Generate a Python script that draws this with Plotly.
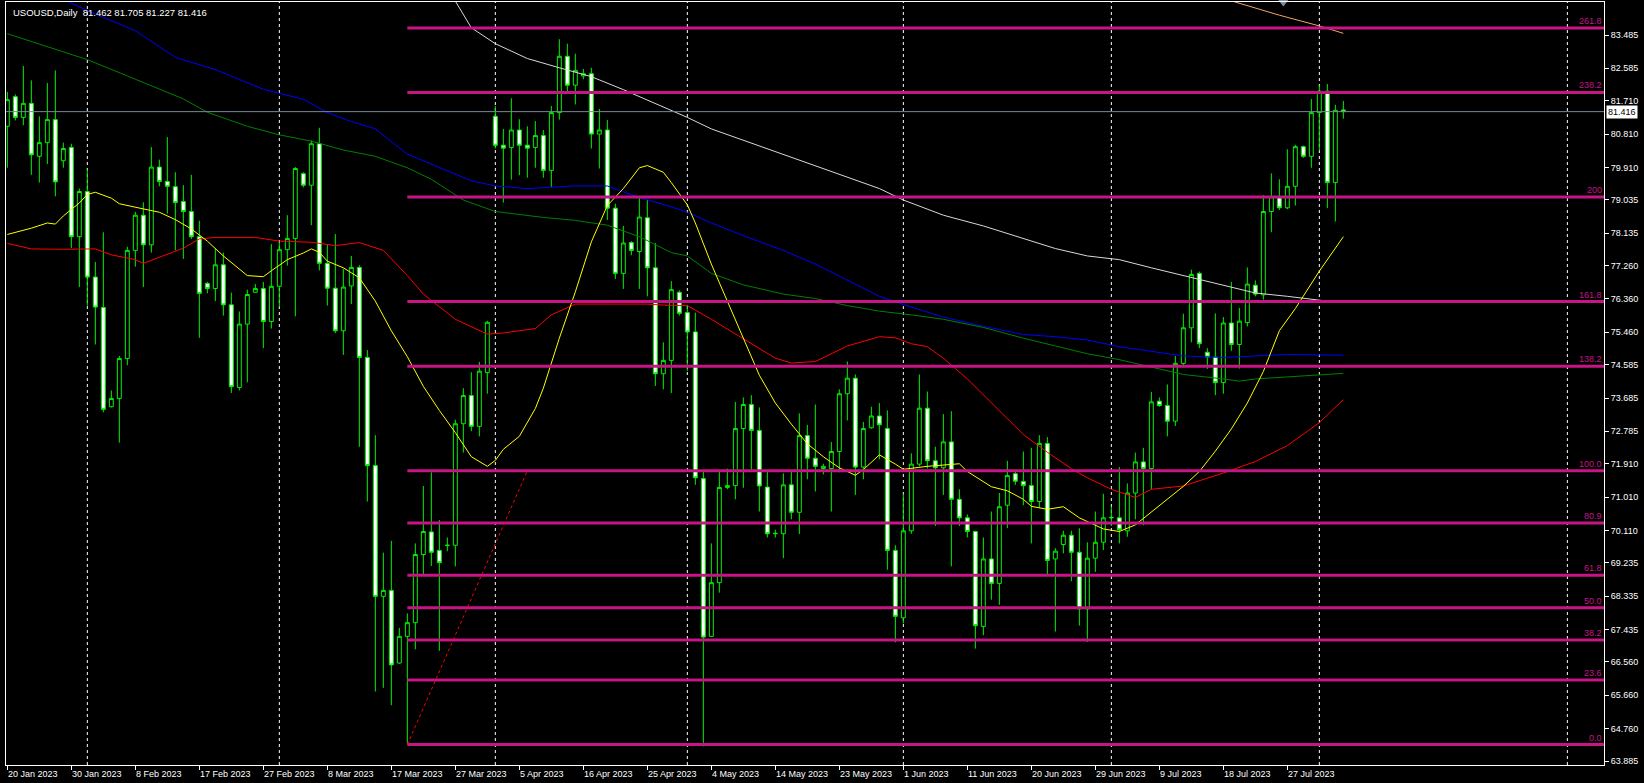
import plotly.graph_objects as go

# ---------------- data ----------------
title_text = "USOUSD,Daily  81.462 81.705 81.227 81.416"

open_ = [81.02,81.82,81.26,81.64,80.21,80.58,81.20,80.09,80.45,78.04,
         79.26,76.95,76.13,73.45,73.67,74.75,77.67,78.62,77.82,79.92,
         79.53,79.39,78.99,78.72,78.04,76.78,76.64,77.28,76.20,73.97,
         75.68,76.54,76.64,75.75,76.70,77.69,77.99,79.74,79.43,80.55,
         77.32,76.65,75.50,76.71,77.21,74.78,71.86,68.33,68.49,66.53,
         67.25,67.62,69.46,70.07,69.57,69.70,69.71,72.99,73.75,72.92,
         74.37,81.29,80.51,80.45,80.92,80.51,80.45,80.77,79.83,81.39,
         82.91,82.13,82.38,82.44,80.81,80.92,78.81,77.05,77.88,77.64,
         78.55,77.20,74.34,74.70,76.54,75.99,75.47,71.51,67.25,68.70,
         71.27,71.32,72.86,73.51,72.81,71.28,70.02,70.02,71.34,70.60,
         72.67,72.06,71.78,71.78,72.24,73.80,74.22,71.82,72.88,73.20,
         72.86,69.57,67.75,70.10,71.90,73.41,71.99,71.80,72.50,70.95,
         70.45,70.08,67.52,69.34,68.68,70.79,71.64,71.43,71.32,70.89,
         72.46,69.34,69.73,69.98,69.52,67.99,69.36,69.79,70.45,70.45,
         70.10,71.12,71.96,71.78,73.60,73.48,73.06,74.62,75.58,77.05,
         74.92,74.79,74.10,75.71,75.13,75.72,76.73,76.47,78.72,79.12,
         78.82,79.40,80.47,80.21,81.39,81.97,79.50,81.462]
high = [81.95,81.88,82.65,82.26,81.29,82.19,82.53,80.58,80.55,79.34,
        79.86,77.36,78.16,73.89,74.82,77.77,78.71,78.97,80.46,80.12,
        80.73,79.78,79.43,79.71,78.47,76.82,77.72,77.61,76.53,76.02,
        76.61,76.76,76.82,77.84,77.89,78.62,79.92,79.78,80.64,80.98,
        77.82,78.11,77.17,77.52,77.27,74.98,72.68,69.51,69.83,67.48,
        67.87,69.76,71.31,71.68,70.39,69.92,73.10,73.95,74.38,74.66,
        75.77,81.57,80.95,81.78,81.21,81.02,81.16,80.92,81.57,83.37,
        83.25,82.98,82.57,82.60,81.49,81.19,78.93,78.33,77.92,79.08,
        79.03,77.87,75.19,76.84,76.59,76.20,75.99,71.69,69.76,71.72,
        71.78,73.58,73.70,73.76,73.43,71.72,70.13,71.65,71.74,73.27,
        72.96,73.51,71.91,72.50,73.92,74.67,74.32,73.04,73.45,73.55,
        73.35,69.71,71.10,72.19,74.32,73.86,72.37,73.25,73.33,71.22,
        70.54,70.10,69.92,70.62,71.12,71.99,71.69,72.24,72.34,72.68,
        72.63,69.63,70.10,70.10,70.17,69.79,70.62,71.10,70.75,71.82,
        71.38,72.21,72.34,73.85,73.70,74.05,74.82,75.96,77.15,77.10,
        75.03,75.97,75.87,76.82,76.12,77.21,76.86,79.16,79.75,79.59,
        80.40,80.52,80.50,81.76,82.13,82.16,81.60,81.705]
low = [79.90,81.18,81.05,79.71,79.50,80.00,79.13,79.90,77.73,76.68,
       76.18,75.13,73.30,73.43,72.48,74.57,77.23,76.68,77.61,79.40,
       78.66,77.67,77.44,77.98,75.31,76.51,76.30,75.91,73.82,73.89,
       74.11,76.54,75.03,75.56,76.14,77.26,75.89,79.37,78.35,77.13,
       76.18,75.44,74.85,76.22,72.37,70.89,65.76,65.86,65.39,66.51,
       64.34,66.90,68.89,69.15,66.86,69.55,69.14,72.21,72.79,72.65,
       73.80,80.42,78.96,79.58,79.70,79.63,79.90,79.63,79.38,81.20,
       81.95,81.61,82.29,80.42,79.88,78.49,76.90,76.63,77.54,76.63,
       76.43,74.01,73.92,73.82,75.91,74.42,71.34,64.28,67.23,68.43,
       71.22,70.95,71.26,71.75,70.62,69.92,69.92,69.36,70.41,70.01,
       71.49,71.16,71.62,70.62,71.68,73.08,71.07,71.49,72.86,72.03,
       69.05,67.09,67.60,70.02,71.84,71.78,70.23,71.07,69.14,70.23,
       69.92,66.92,67.28,68.24,68.10,70.17,71.34,70.79,69.76,70.72,
       68.93,67.38,69.49,68.74,67.54,67.10,68.99,69.58,70.23,69.76,
       69.94,70.41,70.25,71.22,73.45,72.65,72.93,74.51,75.19,75.03,
       74.47,73.76,73.80,74.96,74.48,75.62,76.43,76.34,78.16,78.76,
       78.78,78.88,80.17,79.90,80.37,78.81,78.45,81.227]
close = [81.74,81.26,81.64,80.25,80.58,81.20,79.52,80.42,78.04,79.26,
         76.95,76.14,73.38,73.67,74.75,77.67,78.62,77.82,79.92,79.53,
         79.40,78.96,78.72,78.04,76.51,76.64,77.28,76.20,73.99,75.68,
         76.48,76.64,75.75,76.70,77.69,77.99,79.88,79.43,80.55,77.32,
         76.65,75.50,76.68,77.21,74.78,71.86,68.33,68.49,66.48,67.25,
         67.62,69.46,70.08,69.52,69.24,69.71,72.99,73.75,72.92,74.41,
         75.73,80.51,80.43,80.92,80.51,80.43,80.77,79.83,81.39,82.91,
         82.13,82.53,82.44,80.81,80.92,78.81,77.05,77.87,77.67,78.57,
         77.20,74.34,74.70,76.61,75.97,75.47,71.53,67.23,68.70,71.27,
         71.32,72.86,73.51,72.81,71.31,70.02,70.03,71.34,70.60,72.67,
         72.06,71.84,71.84,72.24,73.80,74.22,71.82,72.86,73.20,72.96,
         69.57,67.79,70.10,71.90,73.41,71.99,71.80,72.50,70.95,70.45,
         70.08,67.54,69.34,68.68,70.75,71.59,71.44,71.32,70.89,72.46,
         69.30,69.55,69.98,69.52,67.99,69.36,69.79,70.45,70.46,70.13,
         71.12,71.96,71.78,73.58,73.48,73.06,74.62,75.58,77.02,75.15,
         74.79,74.10,75.71,75.13,75.76,76.76,76.49,78.72,79.12,78.82,
         79.40,80.47,80.21,81.39,81.97,79.50,81.45,81.416]
bars = list(range(len(close)))

# moving averages: (bar, value)
ma_yellow_bars = [0,3,5,6,7,9,10,11,13,14,17,19,21,23,25,27,30,32,33,35,37,38,39,40,42,44,46,48,50,52,54,56,58,60,61,62,64,66,67,69,71,73,75,77,79,80,82,83,85,86,88,90,92,94,96,98,100,102,104,106,107,109,111,112,115,119,120,123,125,127,128,130,132,134,137,139,141,143,145,147,149,151,153,155,157,159,161,162,164,167]
ma_yellow_vals = [78.10,78.27,78.41,78.38,78.60,78.95,79.18,79.24,79.08,78.93,78.79,78.70,78.50,78.25,77.92,77.52,76.99,76.96,77.12,77.42,77.60,77.71,77.62,77.38,77.20,76.93,76.30,75.50,74.80,74.00,73.35,72.75,72.10,71.84,72.00,72.30,72.65,73.40,73.95,75.30,76.55,77.90,78.88,79.34,79.90,79.96,79.78,79.50,78.90,78.41,77.30,76.30,75.25,74.30,73.55,72.98,72.45,72.10,71.80,71.60,71.75,72.15,71.90,71.76,71.84,71.91,71.70,71.29,71.18,70.95,70.76,70.68,70.75,70.45,70.15,70.08,70.26,70.60,70.95,71.30,71.70,72.25,72.85,73.55,74.40,75.50,76.10,76.43,77.11,78.04]

ma_red_bars = [0,3,7,11,13,16,17,19,22,24,26,31,34,38,41,44,47,50,52,56,60,62,66,68,71,77,80,83,85,88,92,96,98,101,105,109,111,113,115,117,120,124,127,130,133,135,138,141,143,147,152,156,160,164,167]
ma_red_vals = [77.86,77.71,77.70,77.71,77.55,77.42,77.32,77.48,77.73,77.98,78.02,78.02,77.92,77.89,77.80,77.88,77.67,76.99,76.49,75.81,75.41,75.44,75.56,75.93,76.22,76.22,76.22,76.18,76.18,75.81,75.29,74.76,74.63,74.67,75.09,75.34,75.31,75.15,75.07,74.76,74.20,73.33,72.70,72.22,71.78,71.53,71.22,71.00,71.22,71.31,71.66,71.97,72.40,73.02,73.64]

ma_green_bars = [0,10,15,22,25,30,34,38,42,46,50,53,57,61,67,71,75,79,83,85,88,92,97,101,105,109,113,117,122,127,131,135,139,143,147,152,154,156,160,167]
ma_green_vals = [83.52,82.82,82.38,81.76,81.40,81.02,80.79,80.62,80.38,80.21,79.90,79.59,79.03,78.72,78.56,78.48,78.35,78.04,77.61,77.52,77.05,76.74,76.49,76.37,76.18,76.03,75.93,75.81,75.59,75.30,75.09,74.88,74.72,74.51,74.32,74.20,74.14,74.20,74.26,74.35]

ma_blue_bars = [7,10,16,21,26,32,37,40,43,46,50,54,58,61,65,71,75,79,83,85,88,92,97,101,105,109,112,117,122,127,131,135,139,143,147,152,156,160,167]
ma_blue_vals = [84.45,84.14,83.60,82.88,82.55,82.02,81.75,81.39,81.15,80.95,80.27,79.90,79.55,79.41,79.34,79.41,79.41,79.10,78.85,78.70,78.41,78.07,77.67,77.30,76.86,76.43,76.21,75.87,75.62,75.40,75.34,75.25,75.07,74.94,74.82,74.78,74.82,74.86,74.84]

ma_silver_bars = [56,58,61,65,69,73,77,81,85,88,92,97,101,105,109,112,117,122,127,131,135,139,143,147,152,156,160,165]
ma_silver_vals = [84.40,83.68,83.25,82.85,82.60,82.36,82.01,81.64,81.26,80.95,80.64,80.25,79.94,79.64,79.34,79.03,78.62,78.33,77.98,77.72,77.52,77.42,77.20,76.99,76.72,76.52,76.43,76.30]

ma_orange_bars = [150,154,159,164,167]
ma_orange_vals = [84.60,84.34,84.02,83.73,83.53]

# Fibonacci tool anchors
fib_start_bar, fib_end_bar = 50, 65
fib_low, fib_high = 64.33, 71.72
fib_ratios = [0.0, 0.236, 0.382, 0.5, 0.618, 0.809, 1.0, 1.382, 1.618, 2.0, 2.382, 2.618]
fib_texts = ["0.0", "23.6", "38.2", "50.0", "61.8", "80.9", "100.0", "138.2", "161.8", "200", "238.2", "261.8"]

# axes
price_ticks = [83.485, 82.585, 81.710, 80.810, 79.910, 79.035, 78.135, 77.260, 76.360, 75.460,
               74.585, 73.685, 72.785, 71.910, 71.010, 70.110, 69.235, 68.335, 67.435, 66.560,
               65.660, 64.760, 63.885]
date_tick_bars = [0, 8, 16, 24, 32, 40, 48, 56, 64, 72, 80, 88, 96, 104, 112, 120, 128, 136, 144, 152, 160]
date_tick_labels = ["20 Jan 2023", "30 Jan 2023", "8 Feb 2023", "17 Feb 2023", "27 Feb 2023", "8 Mar 2023",
                    "17 Mar 2023", "27 Mar 2023", "5 Apr 2023", "16 Apr 2023", "25 Apr 2023", "4 May 2023",
                    "14 May 2023", "23 May 2023", "1 Jun 2023", "11 Jun 2023", "20 Jun 2023", "29 Jun 2023",
                    "9 Jul 2023", "18 Jul 2023", "27 Jul 2023"]
month_start_bars = [10, 34, 61, 85, 112, 138, 164, 195]
shift_marker_bar = 159.5

x_range = [-0.166, 199.58]
y_range = [63.777, 84.376]

# ---------------- figure ----------------
CANDLE = "#00F000"
FIB = "#C71585"
FONT = "Liberation Sans"

fig = go.Figure()

# grid (month separators)
for b in month_start_bars:
    fig.add_shape(type="line", xref="x", yref="paper", x0=b, x1=b, y0=0, y1=1,
                  line=dict(color="white", width=1, dash="3px,3px"), layer="below")

# moving averages
for bx, vals, col in [(ma_silver_bars, ma_silver_vals, "#D8D8D8"),
                      (ma_blue_bars, ma_blue_vals, "#0000FF"),
                      (ma_green_bars, ma_green_vals, "#008000"),
                      (ma_red_bars, ma_red_vals, "#FF0000"),
                      (ma_yellow_bars, ma_yellow_vals, "#FFFF00"),
                      (ma_orange_bars, ma_orange_vals, "#F4A460")]:
    fig.add_trace(go.Scatter(x=bx, y=vals, mode="lines", line=dict(color=col, width=1),
                             hoverinfo="skip", showlegend=False))

# current price line
fig.add_trace(go.Scatter(x=[x_range[0], x_range[1]], y=[close[-1], close[-1]], mode="lines",
                         line=dict(color="#778899", width=1), hoverinfo="skip", showlegend=False))

# candles
fig.add_trace(go.Candlestick(
    x=bars, open=open_, high=high, low=low, close=close,
    increasing=dict(line=dict(color=CANDLE, width=1), fillcolor="black"),
    decreasing=dict(line=dict(color=CANDLE, width=1), fillcolor="white"),
    whiskerwidth=0, showlegend=False, hoverinfo="skip"))

# fibonacci levels
fib_rng = fib_high - fib_low
for r, t in zip(fib_ratios, fib_texts):
    lvl = fib_low + r * fib_rng
    fig.add_trace(go.Scatter(x=[fib_start_bar, x_range[1]], y=[lvl, lvl], mode="lines",
                             line=dict(color=FIB, width=3), hoverinfo="skip", showlegend=False))
    fig.add_annotation(x=1, xref="paper", y=lvl, yref="y", text=t, showarrow=False,
                       xanchor="right", yanchor="bottom", xshift=-1, yshift=1, borderpad=0,
                       font=dict(family=FONT, size=9, color=FIB))

# fib base trend line
fig.add_trace(go.Scatter(x=[fib_start_bar, fib_end_bar], y=[fib_low, fib_high], mode="lines",
                         line=dict(color="#FF0000", width=1, dash="dot"),
                         hoverinfo="skip", showlegend=False))

# shift marker
fig.add_trace(go.Scatter(x=[shift_marker_bar], y=[y_range[1]], mode="markers",
                         marker=dict(symbol="triangle-down", size=9, color="#8090A0"),
                         cliponaxis=False, hoverinfo="skip", showlegend=False))

# date labels
for b, lab in zip(date_tick_bars, date_tick_labels):
    fig.add_annotation(x=b, xref="x", y=0, yref="paper", text=lab, showarrow=False,
                       xanchor="left", yanchor="top", xshift=0, yshift=-3, borderpad=0,
                       font=dict(family=FONT, size=9, color="white"))

# title
fig.add_annotation(x=0, xref="paper", y=1, yref="paper", text=title_text, showarrow=False,
                   xanchor="left", yanchor="top", xshift=5, yshift=-3,
                   font=dict(family=FONT, size=9.5, color="white"))

# current price label
fig.add_annotation(x=1, xref="paper", y=close[-1], yref="y", text=f"{close[-1]:.3f}", showarrow=False,
                   xanchor="left", yanchor="middle", xshift=2, bgcolor="white", borderpad=1,
                   font=dict(family=FONT, size=9, color="black"))

fig.update_layout(
    width=1644, height=783,
    margin=dict(l=6, r=40, t=2, b=18),
    paper_bgcolor="black", plot_bgcolor="black",
    showlegend=False,
    xaxis=dict(range=x_range, type="linear", rangeslider=dict(visible=False),
               showgrid=False, zeroline=False, showline=True, linecolor="white", linewidth=1,
               mirror=True, tickvals=date_tick_bars, ticktext=[""] * len(date_tick_bars),
               ticks="outside", ticklen=4, tickcolor="white", showticklabels=False),
    yaxis=dict(range=y_range, side="right", showgrid=False, zeroline=False, showline=True,
               linecolor="white", linewidth=1, mirror=True, tickvals=price_ticks,
               ticktext=[f"{v:.3f}" for v in price_ticks], ticks="outside", ticklen=4,
               tickcolor="white", tickfont=dict(family=FONT, size=9, color="white")),
)

fig.write_html("out.html", config={"displayModeBar": False},
               post_script="document.body.style.margin='0';document.body.style.background='black';")
